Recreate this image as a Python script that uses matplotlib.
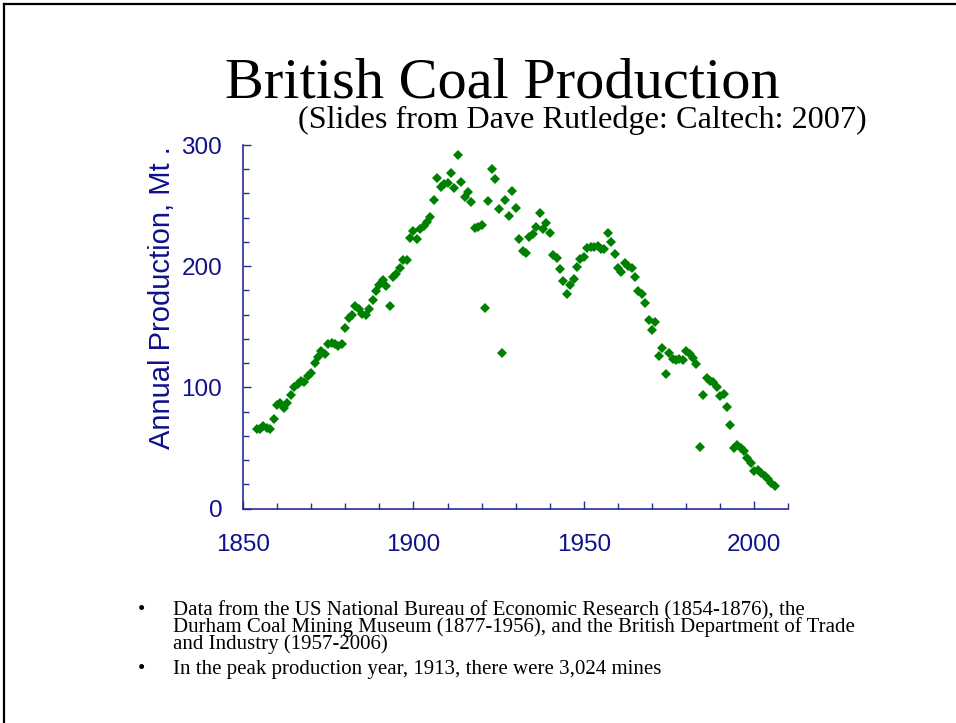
import matplotlib
matplotlib.use("Agg")
import matplotlib.pyplot as plt
from matplotlib.lines import Line2D
from matplotlib.ticker import MultipleLocator

# annual UK coal production, Mt
years = list(range(1854, 2007))
production = [
    66, 65.5, 68, 66.8, 65.5, 74, 85.3, 87.4, 83, 87.4,           # 1854-1863
    94, 100, 103, 105.3, 104.8, 109.5, 112, 120, 125.4, 130,      # 1864-1873
    128, 135.6, 136.5, 136, 134, 136, 149, 157, 159.5, 167,       # 1874-1883
    164.5, 161, 159.5, 165, 172.5, 179.5, 184.5, 188.5, 183.7, 167,  # 1884-1893
    191.4, 193.4, 198.3, 205, 205, 223.6, 229, 222.2, 230.5, 233.4,  # 1894-1903
    236.7, 240.4, 255, 272.5, 265.6, 267.6, 269, 276.5, 264.7, 292,  # 1904-1913
    269.6, 257.4, 261, 253, 231.3, 232.6, 233.7, 165.8, 254, 280.5,  # 1914-1923
    271.7, 247.2, 128.7, 255, 241.2, 262, 248.3, 222.7, 212.6, 211,  # 1924-1933
    224.4, 226.3, 232.6, 244, 230.4, 235.4, 227.7, 209.3, 206.5, 198,  # 1934-1943
    187.6, 177.4, 184.3, 189.2, 199, 206.2, 207.9, 214.8, 215.6, 215.9,  # 1944-1953
    217, 214, 214, 227.6, 219.7, 209.8, 198.3, 195.3, 203, 200.2,  # 1954-1963
    198.3, 191.4, 179.8, 177.1, 169.7, 155.9, 147.2, 154, 126, 132.5,  # 1964-1973
    110.9, 128.5, 123.7, 122.9, 123.7, 122.9, 130.3, 127.4, 124.6, 119.6,  # 1974-1983
    51.2, 94, 107.6, 105.6, 104.3, 100.1, 93.2, 94.4, 84.1, 68.8,  # 1984-1993
    50, 52.8, 49.8, 47.8, 41.6, 37.4, 31.4, 31.9, 29.7, 27.2,      # 1994-2003
    24.5, 21, 18.7,                                                # 2004-2006
]

x_ticks = [1850, 1900, 1950, 2000]
y_ticks = [0, 100, 200, 300]

title = "British Coal Production"
subtitle = "(Slides from Dave Rutledge: Caltech: 2007)"
ylabel = "Annual Production, Mt ."
bullets = [
    ["Data from the US National Bureau of Economic Research (1854-1876), the",
     "Durham Coal Mining Museum (1877-1956), and the British Department of Trade",
     "and Industry (1957-2006)"],
    ["In the peak production year, 1913, there were 3,024 mines"],
]

navy = "#10108a"
axis_col = "#2a2a96"
green = "#008000"
W, H = 956, 723

fig = plt.figure(figsize=(W / 100, H / 100), dpi=100)
fig.patch.set_facecolor("white")

# slide frame (top and left edges)
fig.add_artist(Line2D([4 / W, 4 / W], [0, 1 - 4 / H], transform=fig.transFigure,
                      color="black", lw=1.6))
fig.add_artist(Line2D([4 / W, 1], [1 - 4 / H, 1 - 4 / H], transform=fig.transFigure,
                      color="black", lw=1.6))

ax = fig.add_axes([243 / W, (H - 508.7) / H, 545.4 / W, 363.7 / H])
ax.plot(years, production, linestyle="none", marker="D", ms=4.6,
        color=green, markeredgewidth=0)

ax.set_xlim(1850, 2010)
ax.set_ylim(0, 300)
ax.set_xticks(x_ticks)
ax.set_yticks(y_ticks)
ax.xaxis.set_minor_locator(MultipleLocator(10))
ax.yaxis.set_minor_locator(MultipleLocator(20))
for s in ["top", "right"]:
    ax.spines[s].set_visible(False)
for s in ["left", "bottom"]:
    ax.spines[s].set_color(axis_col)
    ax.spines[s].set_linewidth(1.2)
ax.tick_params(which="both", direction="in", color=axis_col, width=1.0)
ax.tick_params(which="major", length=5.5)
ax.tick_params(which="minor", length=4)
ax.tick_params(axis="y", which="major", pad=15, labelsize=17.5, labelcolor=navy)
ax.tick_params(axis="x", which="major", pad=18, labelsize=17.5, labelcolor=navy)
for lab in ax.get_xticklabels() + ax.get_yticklabels():
    lab.set_fontfamily("Liberation Sans")

ax.set_ylabel(ylabel, fontsize=21, color=navy, fontfamily="Liberation Sans")
ax.yaxis.set_label_coords(-0.123, 0.58)

fig.text(502 / W, 1 - 98 / H, title, fontsize=42, fontfamily="Liberation Serif",
         ha="center", va="baseline", color="black")
fig.text(582 / W, 1 - 128 / H, subtitle, fontsize=23.2, fontfamily="Liberation Serif",
         ha="center", va="baseline", color="black")

# bullet list
y = 615
for item in bullets:
    fig.text(138 / W, 1 - y / H, "\u2022", fontsize=15, fontfamily="Liberation Serif",
             ha="left", va="baseline")
    for line in item:
        fig.text(173 / W, 1 - y / H, line, fontsize=15, fontfamily="Liberation Serif",
                 ha="left", va="baseline")
        y += 17
    y += 8

fig.savefig("out.png", dpi=100, facecolor="white")
